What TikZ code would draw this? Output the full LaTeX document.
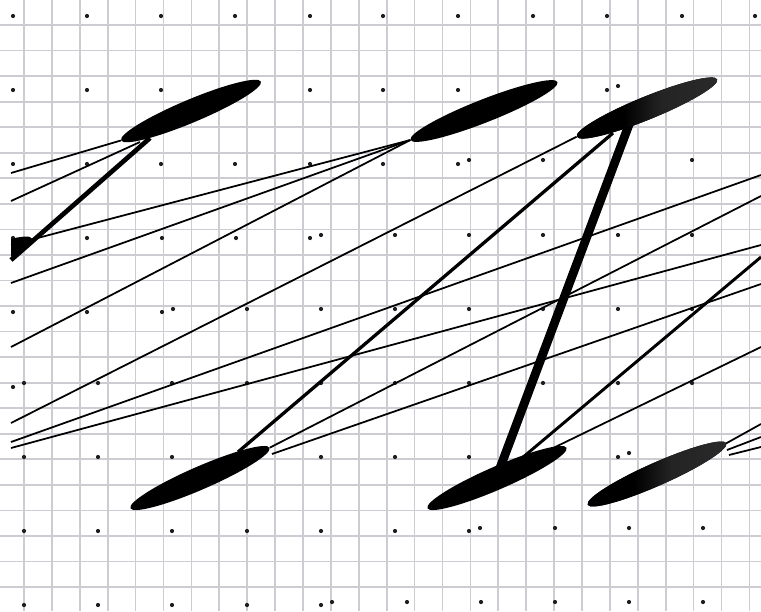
\documentclass[tikz,border=0pt]{standalone}
\usetikzlibrary{shapes.geometric}
\definecolor{gridgray}{RGB}{204,204,210}
\definecolor{dotgray}{RGB}{30,30,30}
\pgfdeclarehorizontalshading{fadeblob}{100bp}{color(0bp)=(black); color(42bp)=(black); color(55bp)=(black!86); color(86bp)=(black!82); color(95bp)=(black); color(100bp)=(black)}

\begin{document}
\begin{tikzpicture}[
    x=0.03cm, y=-0.03cm,
    gridline/.style={draw=gridgray, line width=1.5pt},
    blob/.style={ellipse, fill=black, inner sep=0pt, minimum width=4.55cm, minimum height=0.69cm},
    fadedblob/.style={blob, shade, shading=fadeblob},
    thread/.style={draw=black, line width=1.5pt},
    cord/.style={draw=black, line width=2.8pt},
    rope/.style={draw=black, line width=7.5pt}
]
\useasboundingbox (0,0) rectangle (761,611);
\fill[white] (0,0) rectangle (761,611);
\foreach \k in {0,...,26} \draw[gridline] ({24+27.9*\k},0) -- ({24+27.9*\k},611);
\foreach \k in {0,...,22} \draw[gridline] (0,{25+25.55*\k}) -- (761,{25+25.55*\k});
\foreach \x/\y in {13/16,87/16,161/16,235/16,310/16,383/16,458/16,533/16,607/16,682/16,755/16,
    13/90,87/90,161/90,235/90,310/90,383/90,458/90,533/90,607/90,618/86,692/86,
    13/164,87/164,161/164,235/164,310/164,383/164,458/164,469/160,543/160,618/160,692/160,
    13/238,87/238,162/238,236/238,310/238,321/235,395/235,469/235,543/235,618/235,692/235,
    13/312,87/312,162/312,173/309,247/309,321/309,395/309,469/309,543/309,618/309,692/309,
    13/387,24/383,98/383,172/383,247/383,321/383,395/383,469/383,543/383,618/383,692/383,
    24/457,98/457,172/457,247/457,321/457,395/457,469/457,543/457,618/457,629/453,703/453,
    24/531,98/531,172/531,247/531,321/531,395/531,469/531,480/528,555/528,629/528,703/528,
    24/605,98/605,172/605,247/605,321/605,332/602,407/602,481/602,555/602,629/602,703/602}
    \fill[dotgray] (\x,\y) circle (2.1);

% free ends at the left and right edges
\coordinate (l1) at (11,173);
\coordinate (l2) at (11,201);
\coordinate (l3) at (11,245);
\coordinate (l4) at (11,260);
\coordinate (l5) at (11,283);
\coordinate (l6) at (11,347);
\coordinate (l7) at (11,423);
\coordinate (l8) at (11,442);
\coordinate (l9) at (11,448);
\coordinate (r1) at (761,175);
\coordinate (r2) at (761,196);
\coordinate (r3) at (761,245);
\coordinate (r4) at (761,257);
\coordinate (r5) at (761,284);
\coordinate (r6) at (761,347);
\coordinate (r7) at (761,424);
\coordinate (r8) at (761,437);
\coordinate (r9) at (761,447);
% ends on the blobs
\coordinate (tlA) at (140,142);
\coordinate (tlB) at (150,138);
\coordinate (trA) at (613,133);
\coordinate (trB) at (630,122);
\coordinate (blA) at (238,452);
\coordinate (blB) at (272,454);
\coordinate (bmA) at (500,468);
\coordinate (bmB) at (522,458);
\coordinate (bmC) at (545,452);
\coordinate (brA) at (725,444);
\coordinate (brB) at (727,450);
\coordinate (brC) at (729,455);

\node[blob, rotate=22.8] (tl) at (191,111) {};
\node[blob, rotate=21.5, minimum width=4.74cm] (tm) at (484,111) {};
\node[blob, rotate=23.5] (bl) at (200,478) {};
\node[blob, rotate=23.5] (bm) at (497,478) {};

\draw[thread] (l1) -- (tl.west);
\draw[thread] (l2) -- (tlA);
\draw[draw=black, line width=4pt] (l4) -- (tlB);
\draw[thread] (l3) -- (tm.west);
\draw[thread] (l5) -- (tm.west);
\draw[thread] (l6) -- (tm.west);
\draw[thread] (l8) -- (r1);
\draw[thread] (l9) -- (r3);
\draw[thread] (bl.east) -- (r2);
\draw[thread] (blB) -- (r5);
\draw[cord] (trA) -- (blA);
\draw[rope] (trB) -- (bmA);
\draw[cord, line width=2.5pt] (bmB) -- (r4);
\draw[thread] (bmC) -- (r6);
\draw[thread] (brA) -- (r7);
\draw[thread] (brB) -- (r8);
\draw[thread] (brC) -- (r9);

\node[fadedblob, rotate=22.2] (tr) at (647,108) {};
\node[fadedblob, rotate=23.9] (br) at (657,474) {};
\draw[thread] (l7) -- (tr.west);
\begin{scope}
\clip (11,0) rectangle (761,611);
\node[blob, rotate=23] (lb) at (-38,268) {};
\end{scope}
\end{tikzpicture}
\end{document}
